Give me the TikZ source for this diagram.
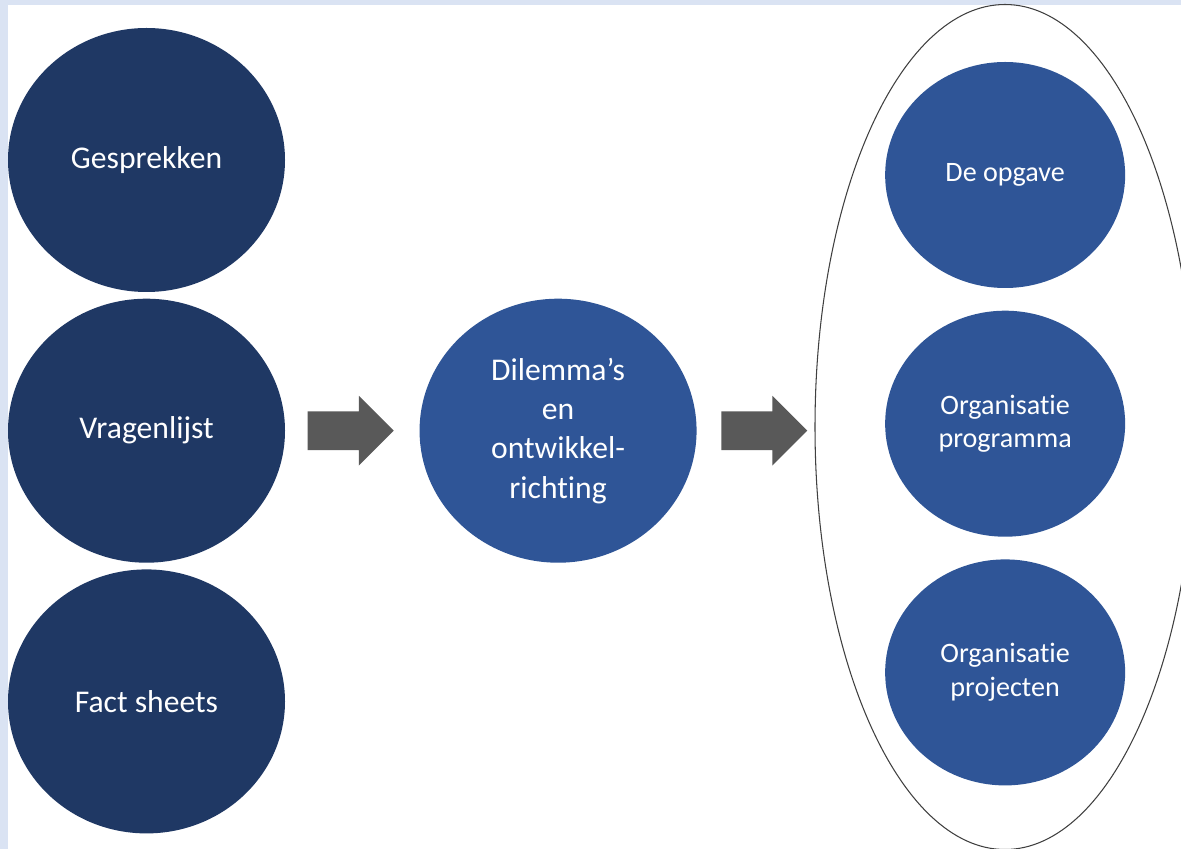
\documentclass[tikz,border=0pt]{standalone}
\usepackage{fontspec}
\setmainfont{Carlito}[Ligatures=NoCommon]
\usepackage{xcolor}
\usepackage{tikz}
\usetikzlibrary{shapes,positioning,calc}
\definecolor{navy}{RGB}{31,56,100}
\definecolor{midblue}{RGB}{47,85,151}
\definecolor{arrowgrey}{RGB}{89,89,89}
\definecolor{band}{RGB}{218,227,243}

\begin{document}
\begin{tikzpicture}[
    source/.style={ellipse, fill=navy, text=white, inner sep=0pt, minimum width=5.54cm, minimum height=5.28cm, font=\fontsize{18}{22}\selectfont},
    middle/.style={ellipse, fill=midblue, text=white, inner sep=0pt, minimum width=5.54cm, minimum height=5.28cm, align=center, font=\fontsize{18}{22.4}\selectfont},
    result/.style={ellipse, fill=midblue, text=white, inner sep=0pt, minimum width=4.8cm, minimum height=4.52cm, align=center, font=\fontsize{16}{19}\selectfont},
    blockarrow/.style={single arrow, fill=arrowgrey, inner xsep=0pt, inner ysep=0.38cm, minimum height=1.72cm, single arrow head extend=0.31cm},
    group/.style={ellipse, draw=black!75, line width=0.6pt, inner sep=0pt, minimum width=7.6cm, minimum height=16.9cm}
]
    % Background
    \useasboundingbox (0,0) rectangle (23.62,-16.98);
    \fill[band] (0,0) rectangle (23.62,-16.98);
    \fill[white] (0.16,-0.1) rectangle (23.62,-16.98);
    \clip (0,0) rectangle (23.62,-16.98);

    % Sources
    \node[source] (gesprekken) at (2.93,-3.2) {Gesprekken};
    \node[source, below=0.12cm of gesprekken] (vragenlijst) {Vragenlijst};
    \node[source, below=0.12cm of vragenlijst] (factsheets) {Fact sheets};

    % Middle
    \node[blockarrow, right=0.44cm of vragenlijst] (arrow1) {};
    \node[middle, right=0.5cm of arrow1] (dilemmas) {Dilemma’s\\en\\ontwikkel-\\richting};
    \node[blockarrow, right=0.48cm of dilemmas] (arrow2) {};

    % Results
    \node[result, right=1.54cm of arrow2, yshift=0.14cm] (programma) {Organisatie\\programma};
    \node[result, above=0.44cm of programma] (opgave) {De opgave};
    \node[result, below=0.44cm of programma] (projecten) {Organisatie\\projecten};
    \node[group] (results) at (20.1,-8.54) {};
\end{tikzpicture}
\end{document}
